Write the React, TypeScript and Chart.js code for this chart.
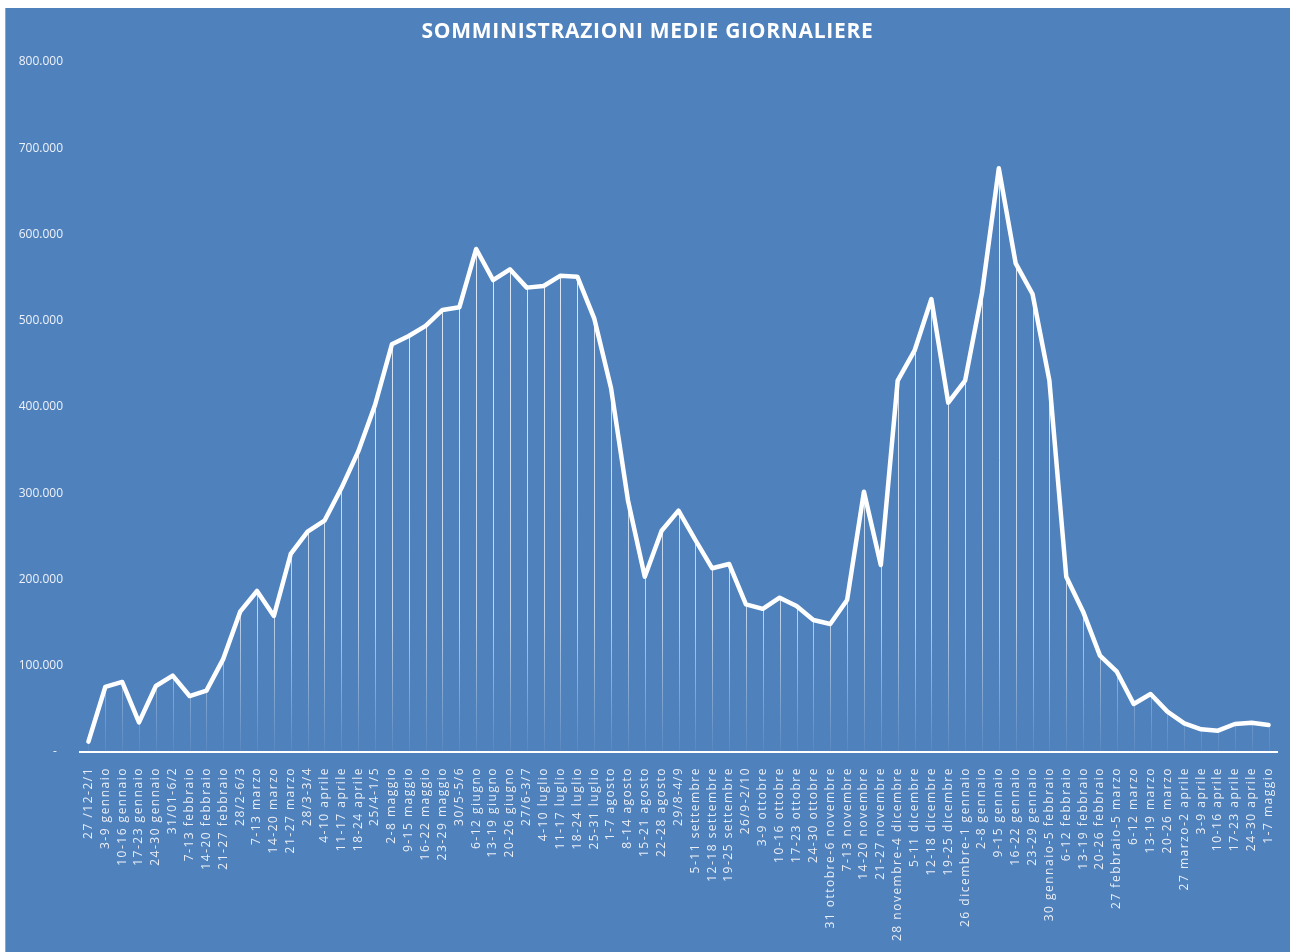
import React, { useEffect, useRef } from 'react';
import { Chart, registerables } from 'chart.js';

Chart.register(...registerables);

const chartTitle = 'SOMMINISTRAZIONI MEDIE GIORNALIERE';

const categories: string[] = [
  '27 /12-2/1', '3-9 gennaio', '10-16 gennaio', '17-23 gennaio', '24-30 gennaio', '31/01-6/2',
  '7-13 febbraio', '14-20 febbraio', '21-27 febbraio', '28/2-6/3', '7-13 marzo', '14-20 marzo',
  '21-27 marzo', '28/3-3/4', '4-10 aprile', '11-17 aprile', '18-24 aprile', '25/4-1/5',
  '2-8 maggio', '9-15 maggio', '16-22 maggio', '23-29 maggio', '30/5-5/6', '6-12 giugno',
  '13-19 giugno', '20-26 giugno', '27/6-3/7', '4-10 luglio', '11-17 luglio', '18-24 luglio',
  '25-31 luglio', '1-7 agosto', '8-14 agosto', '15-21 agosto', '22-28 agosto', '29/8-4/9',
  '5-11 settembre', '12-18 settembre', '19-25 settembre', '26/9-2/10', '3-9 ottobre', '10-16 ottobre',
  '17-23 ottobre', '24-30 ottobre', '31 ottobre-6 novembre', '7-13 novembre', '14-20 novembre',
  '21-27 novembre', '28 novembre-4 dicembre', '5-11 dicembre', '12-18 dicembre', '19-25 dicembre',
  '26 dicembre-1 gennaio', '2-8 gennaio', '9-15 gennaio', '16-22 gennaio', '23-29 gennaio',
  '30 gennaio-5 febbraio', '6-12 febbraio', '13-19 febbraio', '20-26 febbraio', '27 febbraio-5 marzo',
  '6-12 marzo', '13-19 marzo', '20-26 marzo', '27 marzo-2 aprile', '3-9 aprile', '10-16 aprile',
  '17-23 aprile', '24-30 aprile', '1-7 maggio',
];

const dailyAverages: number[] = [
  12000, 75400, 81200, 34400, 76500, 88500,
  64900, 71100, 108000, 162700, 186700, 157700,
  229600, 255400, 268200, 305700, 348200, 402300,
  472700, 482300, 494000, 512500, 515600, 583200,
  547200, 559600, 538400, 540300, 552300, 551100,
  502800, 421700, 292000, 203300, 256600, 279800,
  245800, 213000, 218000, 171200, 166000, 178900,
  169300, 153000, 148400, 176200, 301800,
  216800, 430500, 465300, 525200, 405000,
  430500, 532000, 676700, 566600, 531000,
  430500, 203300, 162700, 111700, 93100,
  55700, 67200, 46800, 33200, 26300, 24700,
  32500, 34000, 31300,
];

const yMin = 0;
const yMax = 800000;
const yStep = 100000;

function formatIt(v: number): string {
  if (v === 0) return '-  ';
  return String(Math.round(v)).replace(/\B(?=(\d{3})+(?!\d))/g, '.');
}

const dropLinesPlugin = {
  id: 'dropLines',
  beforeDatasetsDraw(chart: any) {
    const meta = chart.getDatasetMeta(0);
    const { ctx, chartArea } = chart;
    const yZero = chart.scales.y.getPixelForValue(0);
    const g = ctx.createLinearGradient(0, chartArea.top, 0, chartArea.bottom);
    g.addColorStop(0, 'rgba(255,255,255,0.9)');
    g.addColorStop(0.8, 'rgba(255,255,255,0.65)');
    g.addColorStop(1, 'rgba(255,255,255,0.05)');
    ctx.save();
    ctx.strokeStyle = g;
    ctx.lineWidth = 1;
    meta.data.forEach((pt: any) => {
      const x = Math.round(pt.x) + 0.5;
      ctx.beginPath();
      ctx.moveTo(x, pt.y);
      ctx.lineTo(x, yZero);
      ctx.stroke();
    });
    ctx.restore();
  },
};

const spacingPlugin = {
  id: 'letterSpacing',
  afterLayout(chart: any) {
    const patch = (obj: any, key: string, sp: string, centerOnCanvas: boolean) => {
      if (!obj || obj['__patched_' + key]) return;
      const orig = obj[key].bind(obj);
      obj[key] = (...args: any[]) => {
        const c: any = chart.ctx;
        c.save();
        c.letterSpacing = sp;
        if (centerOnCanvas) {
          const mid = (obj.left + obj.right) / 2;
          c.translate(chart.width / 2 - mid, 0);
        }
        try {
          orig(...args);
        } finally {
          c.restore();
        }
      };
      obj['__patched_' + key] = true;
    };
    patch(chart.scales.x, 'drawLabels', '1.5px', false);
    patch(chart.titleBlock, 'draw', '0.7px', true);
  },
};

export default function App() {
  const canvasRef = useRef<HTMLCanvasElement | null>(null);

  useEffect(() => {
    const canvas = canvasRef.current;
    if (!canvas) return;
    const chart = new Chart(canvas, {
      type: 'line',
      data: {
        labels: categories,
        datasets: [
          {
            data: dailyAverages,
            borderColor: '#ffffff',
            borderWidth: 4.5,
            pointRadius: 0,
            pointHoverRadius: 0,
            tension: 0,
            fill: false,
            borderJoinStyle: 'round',
            borderCapStyle: 'round',
          },
        ],
      },
      options: {
        responsive: false,
        animation: false,
        devicePixelRatio: 1,
        layout: { padding: { left: 0, right: 13, top: 0, bottom: 0 } },
        plugins: {
          legend: { display: false },
          tooltip: { enabled: false },
          title: {
            display: true,
            text: chartTitle,
            color: '#ffffff',
            font: { family: '"Open Sans", sans-serif', size: 21, weight: 'bold', lineHeight: 1.2 },
            padding: { top: 11, bottom: 17.8 },
          },
        },
        scales: {
          x: {
            offset: true,
            grid: { display: false, drawTicks: false },
            border: { display: true, color: '#ffffff', width: 2 },
            ticks: {
              autoSkip: false,
              maxRotation: 90,
              minRotation: 90,
              padding: 15,
              color: '#e9eef6',
              font: { family: '"Open Sans", sans-serif', size: 12 },
            },
            afterFit(scale: any) {
              scale.height = 200;
              scale.paddingLeft = 0;
              scale.paddingRight = 0;
            },
          },
          y: {
            min: yMin,
            max: yMax,
            grid: { display: false, drawTicks: false },
            border: { display: false },
            ticks: {
              stepSize: yStep,
              padding: 17,
              color: '#eef2f8',
              font: { family: '"Open Sans", sans-serif', size: 12 },
              callback: (v: any) => formatIt(Number(v)),
            },
            afterFit(scale: any) {
              scale.width = 75;
            },
          },
        },
      },
      plugins: [dropLinesPlugin, spacingPlugin],
    } as any);
    return () => chart.destroy();
  }, []);

  return (
    <div
      style={{
        position: 'fixed',
        left: 5,
        top: 8,
        width: 1285,
        height: 944,
        background: '#4f81bd',
        boxShadow: 'inset 1px 0 0 #9aa6b4',
      }}
    >
      <canvas ref={canvasRef} width={1285} height={944} style={{ display: 'block' }} />
    </div>
  );
}
